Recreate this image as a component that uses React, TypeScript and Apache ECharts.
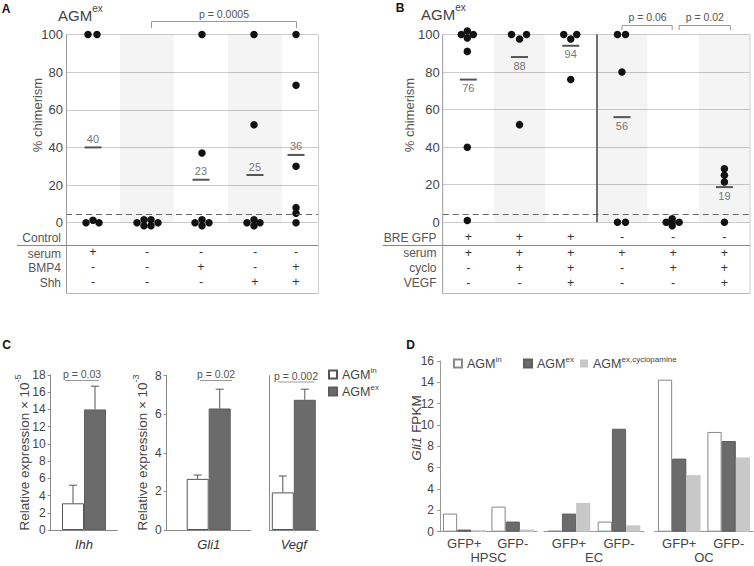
import React, { useEffect, useRef } from 'react';
import * as echarts from 'echarts';

const FONT = '"Liberation Sans", Arial, Helvetica, sans-serif';

// ===== Panel A: % chimerism of AGMex explants =====
const aGroups = ['serum', 'none', 'BMP4', 'Shh', 'BMP4+Shh'];
const aChimerism: number[][] = [
  [100, 100, 0, 0, 0],
  [0, 0, 0, 0, 0, 0],
  [100, 37, 0, 0, 0, 0],
  [100, 52, 0, 0, 0, 0],
  [100, 73, 30, 8, 5, 0],
];
const aMeanLabelled = [true, false, true, true, true];
const aRowNames = ['serum', 'BMP4', 'Shh'];
const aRowSigns = [
  ['+', '-', '-', '-', '-'],
  ['-', '-', '+', '-', '+'],
  ['-', '-', '-', '+', '+'],
];
const aPValue = 'p = 0.0005';

// ===== Panel B =====
const bChimerism: number[][] = [
  [100, 100, 100, 100, 91, 40, 1],
  [100, 100, 100, 52],
  [100, 100, 100, 76],
  [100, 100, 80, 0, 0],
  [0, 0, 0, 0, 0],
  [28.5, 25, 21.5, 0],
];
const bMeanLabelled = [true, true, true, true, false, true];
const bGfpSigns = ['+', '+', '+', '-', '-', '-'];
const bRowNames = ['serum', 'cyclo', 'VEGF'];
const bRowSigns = [
  ['+', '+', '+', '+', '+', '+'],
  ['-', '+', '+', '-', '+', '+'],
  ['-', '-', '+', '-', '-', '+'],
];
const bPValues = ['p = 0.06', 'p = 0.02'];
const chimerismThreshold = 4.5;

// ===== Panel C =====
const cGenes = ['Ihh', 'Gli1', 'Vegf'];
const cAgmIn = [3.1, 2.65, 1.95];
const cAgmInUpper = [5.2, 2.85, 2.8];
const cAgmEx = [14, 6.3, 6.75];
const cAgmExUpper = [16.7, 7.3, 7.3];
const cPValues = ['p = 0.03', 'p = 0.02', 'p = 0.002'];
const cAxisMax = [18, 8, 8];
const cScaleExp = ['-5', '-3'];

// ===== Panel D =====
const dCellTypes = ['HPSC', 'EC', 'OC'];
const dFractions = ['GFP+', 'GFP-'];
const dAgmIn = [1.7, 2.35, 0.1, 0.95, 14.25, 9.35];
const dAgmEx = [0.2, 0.95, 1.7, 9.65, 6.85, 8.5];
const dAgmExCyclo = [0.15, 0.2, 2.7, 0.6, 5.3, 6.95];

// ===== layout (not data) =====
const A_COL_X = [0.5, 1.5, 2.5, 3.5, 4.26];
const A_X_MAX = 4.667;
const B_COL_X = [0.5, 1.5, 2.5, 3.5, 4.5, 5.5];
const A_SWARM: number[][][] = [
  [[-5, 0], [4, 0], [-7, 0], [0, -2.5], [6, 0]],
  [[-10, 0], [-3, -3], [-3, 3], [4, -3], [4, 3], [11, 0]],
  [[1, 0], [1, 0], [-6, 0], [1, -3], [1, 3], [8, 0]],
  [[-1, 0], [-1, 0], [-8, 0], [-1, -3], [-1, 3], [5, 0]],
  [[0, 0], [0, 0], [0, 0], [0, 0], [0, 0], [0, 0]],
];
const B_SWARM: number[][][] = [
  [[-7, 0], [-1, -3.5], [-1, 3.5], [5, 0], [-1, 0], [-1, 0], [-1, 0]],
  [[-8, 0], [0, 4.5], [7, 0], [0, 0]],
  [[-7, 0], [0, 4.5], [6, 0], [0, 0]],
  [[-4.5, 0], [3.5, 0], [0, 0], [-4.5, 0], [3.5, 0]],
  [[-7, 0], [-1, -3.5], [-1, 3.5], [6, 0], [-1, 0]],
  [[0, 0], [0, 0], [0, 0], [0, 0]],
];
const C_BAR_W = 22;
const D_BAR_W = 14.2;

const GRID_A = { left: 66, top: 34.5, width: 252, height: 188.2 };
const GRID_B = { left: 442.7, top: 34.5, width: 307.3, height: 187.8 };
const GRIDS_C = [
  { left: 50.7, top: 375, width: 66.6, height: 155 },
  { left: 166.7, top: 375.7, width: 84, height: 154.3 },
  { left: 269.3, top: 375.7, width: 49, height: 154.3 },
];
const GRIDS_D = [
  { left: 440, top: 361, width: 97, height: 170.7 },
  { left: 544, top: 361, width: 100, height: 170.7 },
  { left: 654.5, top: 361, width: 99, height: 170.7 },
];
const LEGEND_C = { left: 328, top: [366, 383] };
const LEGEND_D = { left: [453, 523, 580], top: 355 };

const mean = (a: number[]) => a.reduce((s, v) => s + v, 0) / a.length;

function dots(values: number[][], colX: number[], swarm: number[][][]) {
  const out: any[] = [];
  values.forEach((col, i) =>
    col.forEach((v, j) => out.push({ value: [colX[i], v], symbolOffset: swarm[i][j] }))
  );
  return out;
}
function means(values: number[][], colX: number[], shown: boolean[]) {
  const out: any[] = [];
  values.forEach((col, i) => {
    if (shown[i]) out.push({ value: [colX[i], mean(col)] });
  });
  return out;
}

const chimerismY = (gridIndex: number) => ({
  type: 'value',
  gridIndex,
  min: 0,
  max: 100,
  interval: 20,
  axisLine: { show: false },
  axisTick: { show: false },
  axisLabel: { fontSize: 13, color: '#444', margin: 3, fontFamily: FONT },
  splitLine: { lineStyle: { color: '#cccccc', width: 1 } },
});

const legendText: Record<string, string> = {
  'C-in': '{b|AGM}{s|in}',
  'C-ex': '{b|AGM}{s|ex}',
  'D-in': '{b|AGM}{s|in}',
  'D-ex': '{b|AGM}{s|ex}',
  'D-cyc': '{b|AGM}{s|ex,cyclopamine}',
};
const legendRich = {
  b: { fontSize: 12.5, lineHeight: 17, fontFamily: FONT, color: '#444' },
  s: { fontSize: 8, lineHeight: 8, verticalAlign: 'top', fontFamily: FONT, color: '#444' },
};

const whiteBar = { color: '#ffffff', borderColor: '#555', borderWidth: 1 };
const darkBar = { color: '#6b6b6b', borderColor: '#5e5e5e', borderWidth: 1 };
const lightBar = { color: '#c8c8c8', borderColor: '#c8c8c8', borderWidth: 0 };
const whiteBarD = { color: '#ffffff', borderColor: '#888', borderWidth: 1 };

function errRender(params: any, api: any) {
  const x = api.value(0);
  const v = api.value(1);
  const e = api.value(2);
  const side = api.value(3);
  const base = api.coord([x, v]);
  const top = api.coord([x, e]);
  const cx = base[0] + (side * C_BAR_W) / 2;
  const st = { stroke: '#555', lineWidth: 1 };
  return {
    type: 'group',
    children: [
      { type: 'line', shape: { x1: cx, y1: base[1], x2: cx, y2: top[1] }, style: st },
      { type: 'line', shape: { x1: cx - 4, y1: top[1], x2: cx + 4, y2: top[1] }, style: st },
    ],
  };
}

function legendItem(name: string, left: number, top: number) {
  return {
    data: [name], orient: 'vertical', left, top, padding: 0,
    icon: 'rect', itemWidth: 8, itemHeight: 8, itemGap: 0, selectedMode: false,
    formatter: (n: string) => legendText[n],
    textStyle: { fontSize: 12.5, color: '#444', fontFamily: FONT, rich: legendRich },
  };
}

function buildOption() {
  const grid: any[] = [GRID_A, GRID_B, ...GRIDS_C, ...GRIDS_D];
  const xAxis: any[] = [
    { type: 'value', gridIndex: 0, min: 0, max: A_X_MAX, show: false },
    { type: 'value', gridIndex: 1, min: 0, max: 6, show: false },
  ];
  const yAxis: any[] = [chimerismY(0), chimerismY(1)];
  cGenes.forEach((g, i) => {
    xAxis.push({
      type: 'category',
      gridIndex: 2 + i,
      data: [g],
      axisLine: { lineStyle: { color: '#888' } },
      axisTick: { show: false },
      axisLabel: { fontSize: 13, fontStyle: 'italic', color: '#333', margin: 8, fontFamily: FONT },
    });
    yAxis.push({
      type: 'value',
      gridIndex: 2 + i,
      min: 0,
      max: cAxisMax[i],
      interval: 2,
      axisLine: { show: true, lineStyle: { color: '#888' } },
      axisTick: { show: i < 2, length: 3, lineStyle: { color: '#888' } },
      axisLabel: { show: i < 2, fontSize: 12, color: '#444', margin: 5, fontFamily: FONT },
      splitLine: { show: false },
    });
  });
  dCellTypes.forEach((ct, k) => {
    xAxis.push({
      type: 'category',
      gridIndex: 5 + k,
      data: dFractions,
      name: ct,
      nameLocation: 'middle',
      nameGap: 19,
      nameTextStyle: { fontSize: 13, color: '#444', fontFamily: FONT },
      axisLine: { lineStyle: { color: '#999' } },
      axisTick: { show: false },
      axisLabel: { fontSize: 13, color: '#444', margin: 5, fontFamily: FONT },
    });
    yAxis.push({
      type: 'value',
      gridIndex: 5 + k,
      min: 0,
      max: 16,
      interval: 2,
      show: k === 0,
      axisLine: { show: true, lineStyle: { color: '#999' } },
      axisTick: { show: true, length: 3, lineStyle: { color: '#999' } },
      axisLabel: { fontSize: 12, color: '#444', margin: 6, fontFamily: FONT },
      splitLine: { show: false },
    });
  });

  const meanLabel = (pos: string) => ({
    show: true,
    position: pos,
    distance: 2,
    fontSize: 11,
    color: '#777',
    fontFamily: FONT,
    formatter: (p: any) => String(Math.round(p.value[1])),
  });
  const dotStyle = { color: '#111', opacity: 1 };

  const series: any[] = [
    {
      type: 'scatter',
      xAxisIndex: 0,
      yAxisIndex: 0,
      symbolSize: 7.5,
      clip: false,
      z: 3,
      itemStyle: dotStyle,
      data: dots(aChimerism, A_COL_X, A_SWARM),
      markArea: {
        silent: true,
        itemStyle: { color: 'rgba(0,0,0,0.045)' },
        data: [
          [{ coord: [1, 0] }, { coord: [2, 100] }],
          [{ coord: [3, 0] }, { coord: [4, 100] }],
        ],
      },
      markLine: {
        silent: true,
        symbol: 'none',
        label: { show: false },
        lineStyle: { color: '#666', type: [6, 4], width: 1 },
        data: [{ yAxis: chimerismThreshold }],
      },
    },
    {
      type: 'scatter',
      xAxisIndex: 0,
      yAxisIndex: 0,
      symbol: 'rect',
      symbolSize: [17, 2],
      clip: false,
      z: 4,
      itemStyle: { color: '#555', opacity: 1 },
      label: meanLabel('top'),
      data: means(aChimerism, A_COL_X, aMeanLabelled),
    },
    {
      type: 'scatter',
      xAxisIndex: 1,
      yAxisIndex: 1,
      symbolSize: 7.5,
      clip: false,
      z: 3,
      itemStyle: dotStyle,
      data: dots(bChimerism, B_COL_X, B_SWARM),
      markArea: {
        silent: true,
        itemStyle: { color: 'rgba(0,0,0,0.045)' },
        data: [
          [{ coord: [1, 0] }, { coord: [2, 100] }],
          [{ coord: [3, 0] }, { coord: [4, 100] }],
          [{ coord: [5, 0] }, { coord: [6, 100] }],
        ],
      },
      markLine: {
        silent: true,
        symbol: 'none',
        label: { show: false },
        lineStyle: { color: '#666', type: [6, 4], width: 1 },
        data: [{ yAxis: chimerismThreshold }],
      },
    },
    {
      type: 'scatter',
      xAxisIndex: 1,
      yAxisIndex: 1,
      symbol: 'rect',
      symbolSize: [17, 2],
      clip: false,
      z: 4,
      itemStyle: { color: '#555', opacity: 1 },
      label: meanLabel('bottom'),
      data: means(bChimerism, B_COL_X, bMeanLabelled),
      markLine: {
        silent: true,
        symbol: 'none',
        label: { show: false },
        lineStyle: { color: '#444', type: 'solid', width: 1.5 },
        data: [[{ coord: [3, 0] }, { coord: [3, 100] }]],
      },
    },
  ];

  cGenes.forEach((g, i) => {
    series.push({
      type: 'bar', name: 'C-in', xAxisIndex: 2 + i, yAxisIndex: 2 + i,
      data: [cAgmIn[i]], barWidth: C_BAR_W, barGap: '0%', itemStyle: whiteBar,
    });
    series.push({
      type: 'bar', name: 'C-ex', xAxisIndex: 2 + i, yAxisIndex: 2 + i,
      data: [cAgmEx[i]], barWidth: C_BAR_W, barGap: '0%', itemStyle: darkBar,
    });
    series.push({
      type: 'custom', xAxisIndex: 2 + i, yAxisIndex: 2 + i, z: 5,
      renderItem: errRender,
      data: [
        [0, cAgmIn[i], cAgmInUpper[i], -1],
        [0, cAgmEx[i], cAgmExUpper[i], 1],
      ],
    });
  });

  dCellTypes.forEach((ct, k) => {
    const idx = [2 * k, 2 * k + 1];
    const sets: [string, number[], any][] = [
      ['D-in', dAgmIn, whiteBarD],
      ['D-ex', dAgmEx, darkBar],
      ['D-cyc', dAgmExCyclo, lightBar],
    ];
    sets.forEach(([name, arr, style]) =>
      series.push({
        type: 'bar', name, xAxisIndex: 5 + k, yAxisIndex: 5 + k,
        data: idx.map((j) => arr[j]), barWidth: D_BAR_W, barGap: '0%', itemStyle: style,
      })
    );
  });

  return {
    animation: false,
    backgroundColor: '#ffffff',
    textStyle: { fontFamily: FONT },
    grid,
    xAxis,
    yAxis,
    legend: [
      legendItem('C-in', LEGEND_C.left, LEGEND_C.top[0]),
      legendItem('C-ex', LEGEND_C.left, LEGEND_C.top[1]),
      legendItem('D-in', LEGEND_D.left[0], LEGEND_D.top),
      legendItem('D-ex', LEGEND_D.left[1], LEGEND_D.top),
      legendItem('D-cyc', LEGEND_D.left[2], LEGEND_D.top),
    ],
    series,
  };
}

function buildGraphic(chart: any) {
  const g: any[] = [];
  const rich = (base: number, sup: number, color: string) => ({
    b: { fontSize: base, lineHeight: base + 8, fontFamily: FONT, fill: color, color },
    i: { fontSize: base, lineHeight: base + 8, fontFamily: FONT, fill: color, color, fontStyle: 'italic' },
    s: { fontSize: sup, lineHeight: sup, verticalAlign: 'top', fontFamily: FONT, fill: color, color },
  });
  const text = (x: number, y: number, t: string, o: any = {}) =>
    g.push({
      type: 'text', x, y, rotation: o.rotation || 0, silent: true, z: 100,
      style: {
        text: t, fill: o.fill || '#444', fontSize: o.size || 12, fontFamily: FONT,
        fontWeight: o.weight || 'normal', align: o.align || 'center', verticalAlign: 'middle',
        lineHeight: o.lh, rich: o.rich,
      },
    });
  const line = (x1: number, y1: number, x2: number, y2: number, stroke = '#999', w = 1) =>
    g.push({ type: 'line', silent: true, z: 100, shape: { x1, y1, x2, y2 }, style: { stroke, lineWidth: w } });
  const poly = (pts: number[][], stroke = '#999') =>
    g.push({ type: 'polyline', silent: true, z: 100, shape: { points: pts }, style: { stroke, fill: null, lineWidth: 1 } });

  const colPx = (gi: number, x: number) => chart.convertToPixel({ gridIndex: gi }, [x, 0])[0];
  const yPx = (gi: number, y: number) => chart.convertToPixel({ gridIndex: gi }, [0, y])[1];

  // panel letters
  text(6, 8.5, 'A', { size: 12, weight: 'bold', fill: '#111' });
  text(400, 7.5, 'B', { size: 12, weight: 'bold', fill: '#111' });
  text(6.5, 344.5, 'C', { size: 12, weight: 'bold', fill: '#111' });
  text(410.5, 344.5, 'D', { size: 12, weight: 'bold', fill: '#111' });

  // titles
  text(58, 15, '{b|AGM}{s|ex}', { align: 'left', rich: rich(15, 10, '#444') });
  text(421, 14, '{b|AGM}{s|ex}', { align: 'left', rich: rich(15, 10, '#444') });

  // y-axis titles of A, B
  text(37, 115, '% chimerism', { size: 13, rotation: Math.PI / 2, fill: '#555' });
  text(409.5, 115, '% chimerism', { size: 13, rotation: Math.PI / 2, fill: '#555' });

  // ---- Panel A frame & table
  const aTop = GRID_A.top, aL = GRID_A.left, aR = GRID_A.left + GRID_A.width, aBot = 293.5;
  line(aL + 0.5, aTop, aL + 0.5, aBot, '#999');
  line(aR + 0.5, aTop, aR + 0.5, aBot, '#d0d0d0');
  line(aL, aBot, aR, aBot, '#bbb');
  line(17, 245.5, aR, 245.5, '#888');
  text(61, 238, 'Control', { align: 'right', size: 12, fill: '#555', lh: 12 });
  const aLabelY = [254, 268, 283];
  const aSignY = [252, 266.5, 282];
  aRowNames.forEach((n, r) => {
    text(61, aLabelY[r], n, { align: 'right', size: 12, fill: '#555', lh: 12 });
    aRowSigns[r].forEach((s, c) =>
      text(colPx(0, A_COL_X[c]), aSignY[r], s, { size: 12.5, fill: '#333', lh: 12 })
    );
  });
  // p bracket A
  const aP1 = colPx(0, A_COL_X[1]) + 4, aP2 = colPx(0, A_COL_X[4]);
  poly([[aP1 + 0.5, 28], [aP1 + 0.5, 21.5], [aP2 + 0.5, 21.5], [aP2 + 0.5, 28]]);
  text((aP1 + aP2) / 2 + 0.5, 14, aPValue, { size: 10.5, fill: '#555' });

  // ---- Panel B frame & table
  const bTop = GRID_B.top, bL = GRID_B.left, bR = GRID_B.left + GRID_B.width, bBot = 293.5;
  line(bL, bTop, bL, bBot, '#999');
  line(bR, bTop, bR, bBot, '#d0d0d0');
  line(bL, bBot, bR, bBot, '#bbb');
  line(383, 245.5, bR, 245.5, '#888');
  text(436.5, 237.5, 'BRE GFP', { align: 'right', size: 12, fill: '#555', lh: 12 });
  bGfpSigns.forEach((s, c) => text(colPx(1, B_COL_X[c]), 237, s, { size: 12.5, fill: '#333', lh: 12 }));
  const bRowY = [253, 268, 283];
  bRowNames.forEach((n, r) => {
    text(436.5, bRowY[r], n, { align: 'right', size: 12, fill: '#555', lh: 12 });
    bRowSigns[r].forEach((s, c) =>
      text(colPx(1, B_COL_X[c]), bRowY[r] - 0.5, s, { size: 12.5, fill: '#333', lh: 12 })
    );
  });
  const b3 = colPx(1, B_COL_X[3]), b4 = colPx(1, B_COL_X[4]), b5 = colPx(1, B_COL_X[5]);
  poly([[b3, 30], [b3, 25.5], [b4 - 1, 25.5], [b4 - 1, 30]]);
  poly([[b4 + 6, 30], [b4 + 6, 25.5], [b5 + 6, 25.5], [b5 + 6, 30]]);
  text((b3 + b4) / 2, 16.5, bPValues[0], { size: 10.5, fill: '#555' });
  text((b4 + b5) / 2 + 6, 16.5, bPValues[1], { size: 10.5, fill: '#555' });

  // ---- Panel C: p-values and y titles
  const cPLines = [
    [65, 99, 380.5],
    [200, 232, 380.5],
    [278, 314, 382],
  ];
  cPLines.forEach(([x1, x2, y], i) => {
    line(x1, y, x2, y, '#999');
    text((x1 + x2) / 2, y - 6.5, cPValues[i], { size: 10.5, fill: '#555' });
  });
  const cMid = (yPx(2, 0) + yPx(2, cAxisMax[0])) / 2;
  text(24, cMid, '{b|Relative expression × 10}{s|' + cScaleExp[0] + '}', {
    rotation: Math.PI / 2, rich: rich(13.5, 9, '#444'),
  });
  text(142.5, cMid, '{b|Relative expression × 10}{s|' + cScaleExp[1] + '}', {
    rotation: Math.PI / 2, rich: rich(13.5, 9, '#444'),
  });

  // ---- Panel D y title
  text(416, 428, '{i|Gli1}{b| FPKM}', { rotation: Math.PI / 2, rich: rich(13.5, 9, '#444') });

  return g;
}

export default function App() {
  const ref = useRef<HTMLDivElement>(null);
  useEffect(() => {
    const el = ref.current;
    if (!el) return;
    const chart = echarts.init(el, undefined, { renderer: 'svg', width: 754, height: 566 });
    chart.setOption(buildOption() as any);
    chart.setOption({ graphic: buildGraphic(chart) } as any);
    return () => chart.dispose();
  }, []);
  return (
    <div
      ref={ref}
      style={{ position: 'fixed', left: 0, top: 0, width: 754, height: 566, background: '#fff' }}
    />
  );
}
